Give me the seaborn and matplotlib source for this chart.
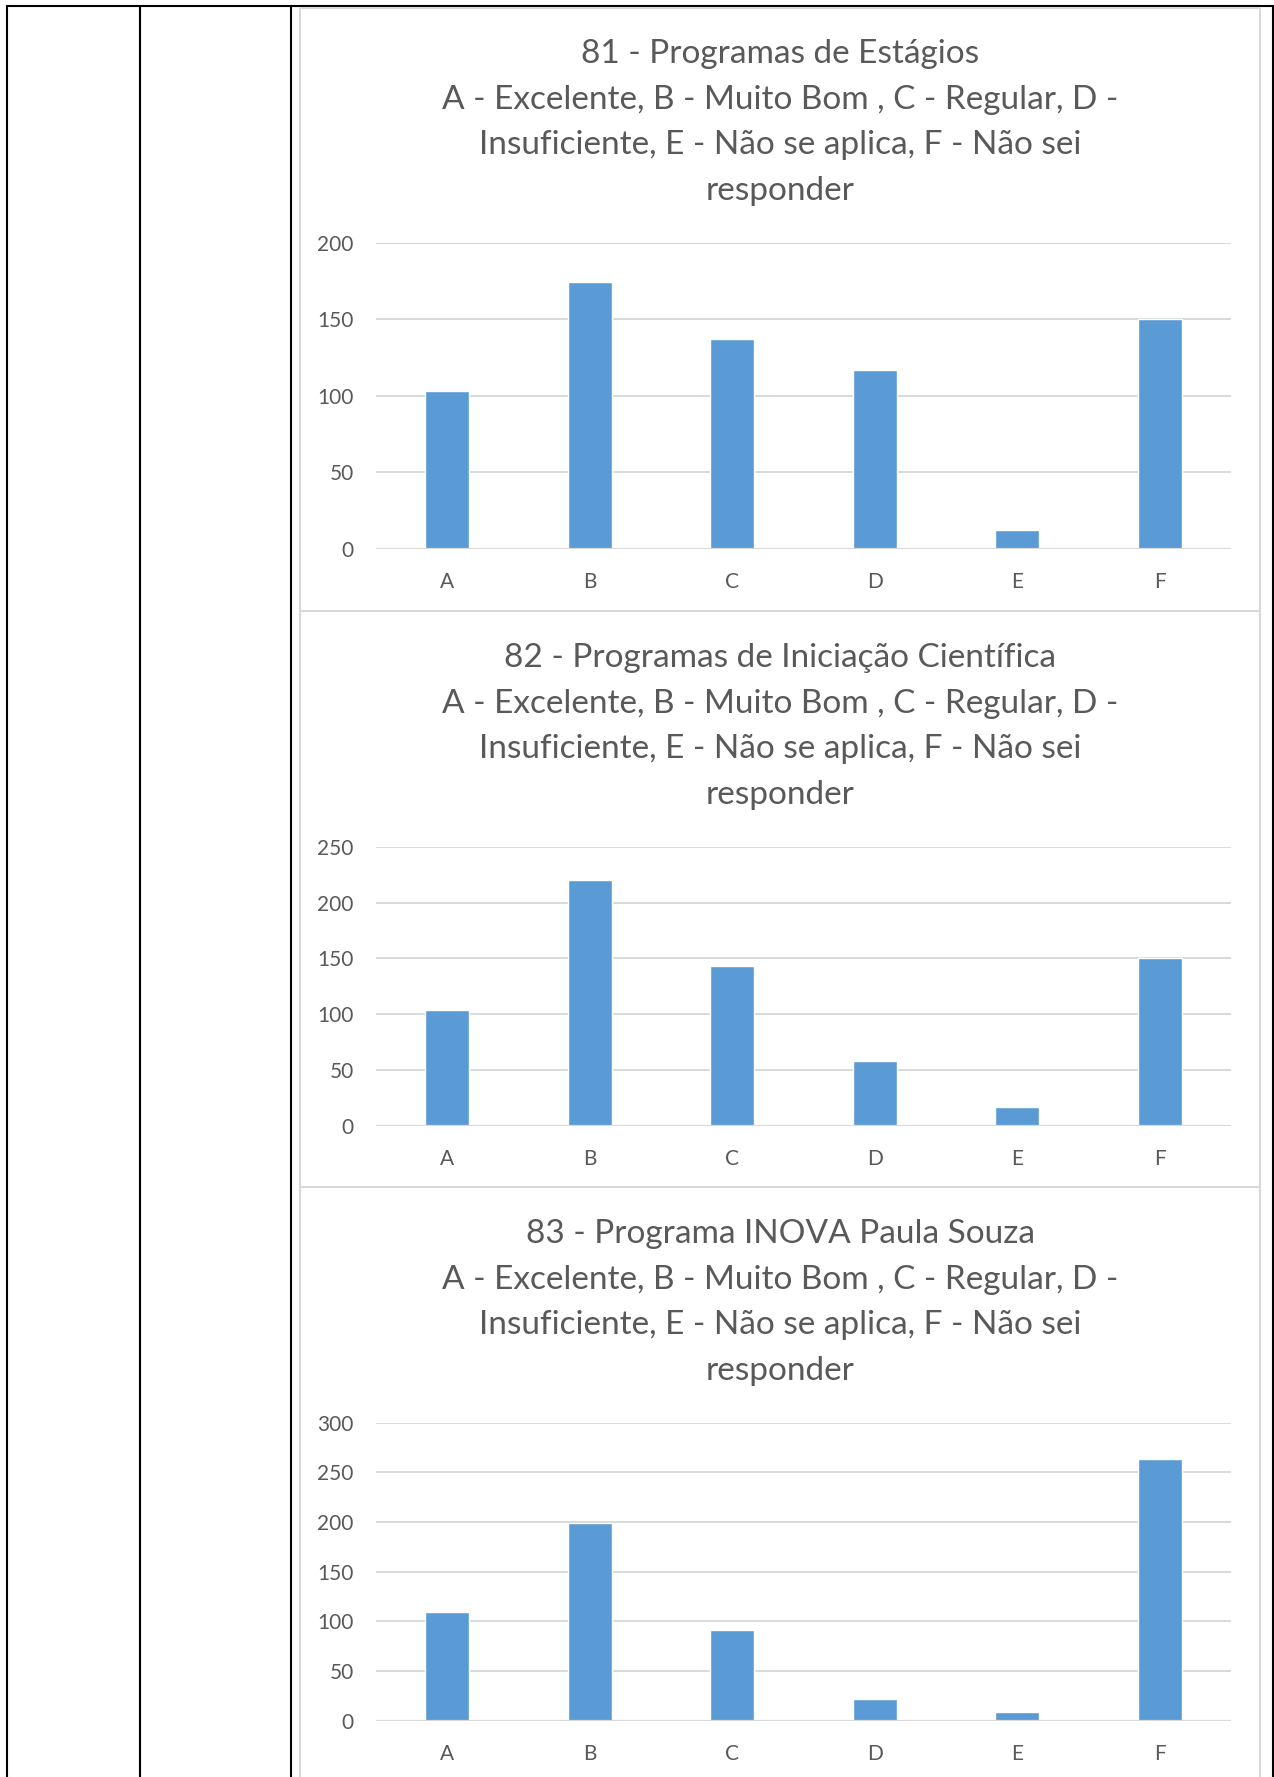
import matplotlib
matplotlib.use("Agg")
import matplotlib.pyplot as plt
from matplotlib.lines import Line2D
import seaborn as sns
import pandas as pd

# Survey answers per question (counts per option)
categories = ["A", "B", "C", "D", "E", "F"]
estagios = [103, 174, 137, 117, 12, 150]
iniciacao = [104, 220, 143, 58, 17, 150]
inova = [109, 199, 91, 22, 9, 263]

titles = [
    "81 - Programas de Estágios",
    "82 - Programas de Iniciação Científica",
    "83 - Programa INOVA Paula Souza",
]
legend_lines = [
    "A - Excelente, B - Muito Bom , C - Regular, D -",
    "Insuficiente, E - Não se aplica, F - Não sei",
    "responder",
]
y_limits = [200, 250, 300]
series = [estagios, iniciacao, inova]

sns.set_theme(style="white")
plt.rcParams["font.family"] = ["Lato", "DejaVu Sans"]

W, H = 1274, 1777
fig = plt.figure(figsize=(W / 100, H / 100), dpi=100)
fig.patch.set_facecolor("white")


def fx(x):
    return x / W


def fy(y):
    return 1 - y / H


def hline(x0, x1, y, color, lw):
    fig.add_artist(Line2D([fx(x0), fx(x1)], [fy(y), fy(y)], transform=fig.transFigure,
                          color=color, lw=lw, solid_capstyle="butt"))


def vline(x, y0, y1, color, lw):
    fig.add_artist(Line2D([fx(x), fx(x)], [fy(y0), fy(y1)], transform=fig.transFigure,
                          color=color, lw=lw, solid_capstyle="butt"))


# table frame
black = "#000000"
hline(6, W, 6, black, 1.5)
for x in (7, 140, 291, 1273):
    vline(x, 5, H, black, 1.5)

# chart panel frames
grey = "#d9d9d9"
vline(300, 8, H, grey, 1.5)
vline(1260, 8, H, grey, 1.5)
for y in (8, 611, 1187):
    hline(300, 1260, y, grey, 1.5)

text_color = "#595959"
bar_color = "#5B9BD5"

# (top gridline y, zero line y, vertical offset of title block)
layouts = [(242.6, 548.6, 0), (847.0, 1125.6, 604), (1422.6, 1720.6, 1180)]
plot_left, plot_right = 376, 1231
title_cx = 780
baselines = [63, 109, 154, 200]

for k in range(3):
    top, bottom, off = layouts[k]
    ax = fig.add_axes([fx(plot_left), fy(bottom), fx(plot_right - plot_left), (bottom - top) / H])
    df = pd.DataFrame({"opcao": categories, "total": series[k]})
    sns.barplot(data=df, x="opcao", y="total", color=bar_color, saturation=1,
                width=0.31, ax=ax, zorder=3)
    ax.set_xlim(-0.5, len(categories) - 0.5)
    ax.set_ylim(0, y_limits[k])
    ax.set_yticks(range(0, y_limits[k] + 1, 50))
    ax.set_xlabel("")
    ax.set_ylabel("")
    ax.grid(axis="y", color=grey, lw=1.4, zorder=0)
    ax.grid(axis="x", visible=False)
    for s in ax.spines.values():
        s.set_visible(False)
    ax.axhline(0, color=grey, lw=1.6, zorder=4)
    ax.tick_params(axis="both", length=0, labelsize=15, colors=text_color)
    ax.tick_params(axis="y", pad=16)
    ax.tick_params(axis="x", pad=16.5)
    ax.set_facecolor("none")

    lines = [titles[k]] + legend_lines
    for line, b in zip(lines, baselines):
        fig.text(fx(title_cx), fy(b + off), line, ha="center", va="baseline",
                 fontsize=24, color=text_color)

fig.savefig("out.png", dpi=100, facecolor="white")
